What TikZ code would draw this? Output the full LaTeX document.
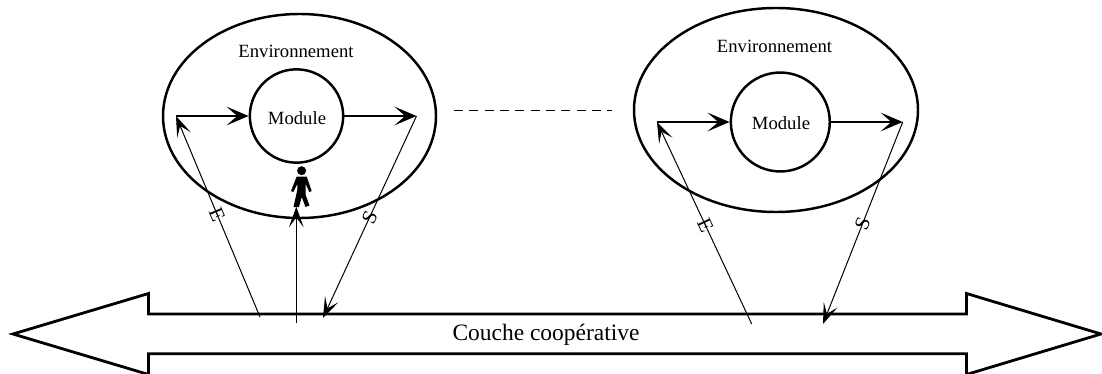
\documentclass[tikz,border=0pt]{standalone}
\usepackage{fontspec}
\setmainfont{Liberation Serif}
\usetikzlibrary{arrows.meta,shapes.geometric}
\tikzset{
  x=0.75pt,y=-0.75pt,
  outline/.style={draw=black,line width=1.85pt,inner sep=0pt},
  flow/.style={line width=2pt,-{Stealth[length=16.5pt,width=14pt,inset=8pt]}},
  link/.style={line width=0.75pt,-{Stealth[length=15.5pt,width=11pt,inset=7.5pt]}},
  txt/.style={font=\fontsize{14pt}{16pt}\selectfont,inner sep=0pt},
  bigtxt/.style={font=\fontsize{17.6pt}{20pt}\selectfont,inner sep=0pt},
  tag/.style={font=\fontsize{15.5pt}{17pt}\selectfont,inner sep=0pt},
}
\begin{document}
\begin{tikzpicture}
\useasboundingbox (0,0) rectangle (1102,374);
% cooperative layer
\coordinate (b1) at (13,334);
\coordinate (b2) at (148.5,293.5);
\coordinate (b3) at (148.5,314);
\coordinate (b4) at (966.5,314);
\coordinate (b5) at (966.5,293.5);
\coordinate (b6) at (1101,334);
\coordinate (b7) at (966.5,374.5);
\coordinate (b8) at (966.5,353.7);
\coordinate (b9) at (148.5,353.7);
\coordinate (b10) at (148.5,374.5);
\draw[line width=2.1pt,line join=miter] (b1)--(b2)--(b3)--(b4)--(b5)--(b6)--(b7)--(b8)--(b9)--(b10)--cycle;
\node[bigtxt] (layer) at (546,335) {Couche coopérative};
% left group
\node[outline,ellipse,minimum width=204.75pt,minimum height=153pt] (envA) at (299.5,116) {};
\node[outline,circle,minimum size=70pt] (modA) at (296.5,116) {};
\node[txt] (envAt) at (296,51.7) {Environnement};
\node[txt] (modAt) at (297,117.7) {Module};
\coordinate (inA) at (176,116);
\coordinate (outA) at (416.5,116);
\coordinate (baseEA) at (260,317);
\coordinate (endSA) at (323,318);
\coordinate (baseUA) at (296.3,323);
\coordinate (topUA) at (296.3,206.7);
\draw[flow] (inA) -- (modA.west);
\draw[flow] (modA.east) -- (outA);
\draw[link] (baseEA) -- node[tag,pos=0.51,rotate=-67] (labEA) {E} (inA);
\draw[link] (outA) -- node[tag,pos=0.5,rotate=65] (labSA) {S} (endSA);
\draw[link] (baseUA) -- (topUA);
% person
\node[circle,fill=black,minimum size=6.75pt,inner sep=0pt] (head) at (301.6,170.7) {};
\fill (296.7,176.5) -- (306.7,176.5) -- (311.7,191) -- (309.3,192) -- (305.7,184) -- (305.7,195) -- (309.5,205.5) -- (305.5,207) -- (301.7,197) -- (299,207) -- (293.5,207) -- (297.3,190) -- (297.3,184) -- (293.3,192) -- (291,191) -- cycle;
% dashes
\coordinate (dashA) at (454,110.7);
\coordinate (dashB) at (612,110.7);
\draw[line width=0.75pt,dash pattern=on 6.8pt off 4.7pt] (dashA) -- (dashB);
% right group
\node[outline,ellipse,minimum width=213pt,minimum height=153pt] (envB) at (776,110) {};
\node[outline,circle,minimum size=74.2pt] (modB) at (780.3,122) {};
\node[txt] (envBt) at (774.5,46) {Environnement};
\node[txt] (modBt) at (781,122.7) {Module};
\coordinate (inB) at (657,122);
\coordinate (outB) at (902.7,122);
\coordinate (baseEB) at (751.7,324);
\coordinate (endSB) at (823,324);
\draw[flow] (inB) -- (modB.west);
\draw[flow] (modB.east) -- (outB);
\draw[link] (baseEB) -- node[tag,pos=0.49,rotate=-65] (labEB) {E} (inB);
\draw[link] (outB) -- node[tag,pos=0.505,rotate=68] (labSB) {S} (endSB);
\end{tikzpicture}
\end{document}
